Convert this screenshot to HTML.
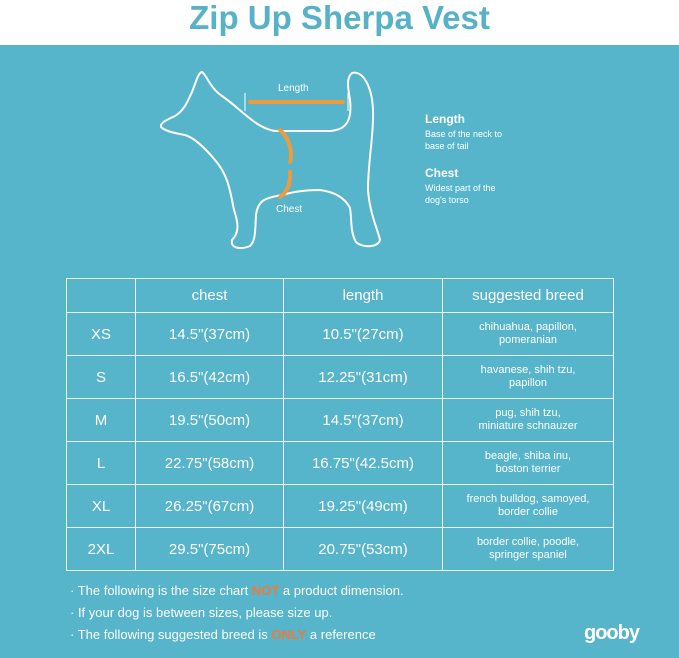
<!DOCTYPE html>
<html><head><meta charset="utf-8"><style>
body{margin:0;width:679px;height:658px;overflow:hidden;font-family:"Liberation Sans","DejaVu Sans",sans-serif;background:#fff;position:relative}
.hdr{position:absolute;left:0;top:0;width:679px;height:45px;background:#fff;text-align:center;color:#57b2c8;font-size:33px;font-weight:bold;line-height:36px}
.bg{position:absolute;left:0;top:45px;width:679px;height:613px;background:#56b4cb}
table{position:absolute;left:66px;top:278px;width:547px;table-layout:fixed;border-collapse:collapse;color:#fff}
td{border:1.5px solid #e8f4f8;text-align:center;padding:0;overflow:hidden}
.r td{height:42px}
.big{font-size:15px}
.sm{font-size:11px;line-height:13px}
.notes{position:absolute;left:70px;top:580px;color:#fff;font-size:13px;line-height:22px}
.or{color:#ef7a3b;font-weight:bold}
.t{position:absolute;color:#fff}
</style></head><body>
<div class="hdr">Zip Up Sherpa Vest</div>
<div class="bg"></div>
<svg style="position:absolute;left:0;top:0" width="679" height="658">
<path d="M202,72 C206,74 210,88 222,96 C240,108 255,128 275,131 L330,131 C348,130 352,118 350,100 C348,88 346,78 352,73 C362,70 372,85 373,110 C374,135 368,160 368,190 C370,215 378,230 380,240 C378,248 362,248 356,242 C350,232 352,220 350,208 C345,198 335,192 320,190 C300,190 290,193 282,195 C265,198 258,200 256,215 C255,230 256,240 250,246 C240,250 230,248 232,240 C240,232 238,222 234,210 C230,190 228,175 215,160 C205,148 195,138 185,135 C175,133 168,132 162,128 C158,124 166,120 175,116 C185,110 188,100 192,92 C196,82 198,73 202,72 Z" fill="none" stroke="#fff" stroke-width="2"/>
<line x1="250" y1="102" x2="343" y2="102" stroke="#ef9a3c" stroke-width="4" stroke-linecap="round"/>
<line x1="245" y1="93" x2="245" y2="111" stroke="#fff" stroke-width="1"/>
<line x1="348" y1="93" x2="348" y2="111" stroke="#fff" stroke-width="1"/>
<path d="M280,130 C292,140 292,158 290,162" fill="none" stroke="#ef9a3c" stroke-width="4" stroke-linecap="round"/>
<path d="M290,172 C291,185 286,193 280,197" fill="none" stroke="#ef9a3c" stroke-width="4" stroke-linecap="round"/>
</svg>
<div class="t" style="left:278px;top:83px;font-size:10px">Length</div>
<div class="t" style="left:276px;top:204px;font-size:10px">Chest</div>
<div class="t" style="left:425px;top:112px;font-size:12px;font-weight:bold">Length</div>
<div class="t" style="left:425px;top:128px;font-size:9px;line-height:12px">Base of the neck to<br>base of tail</div>
<div class="t" style="left:425px;top:166px;font-size:12px;font-weight:bold">Chest</div>
<div class="t" style="left:425px;top:182px;font-size:9px;line-height:12px">Widest part of the<br>dog's torso</div>
<table>
<colgroup><col style="width:69px"><col style="width:148px"><col style="width:159px"><col style="width:171px"></colgroup>
<tr style="height:34px"><td></td><td class="big">chest</td><td class="big">length</td><td class="big">suggested breed</td></tr>
<tr class="r"><td class="big">XS</td><td class="big">14.5"(37cm)</td><td class="big">10.5"(27cm)</td><td class="sm">chihuahua, papillon,<br>pomeranian</td></tr>
<tr class="r"><td class="big">S</td><td class="big">16.5"(42cm)</td><td class="big">12.25"(31cm)</td><td class="sm">havanese, shih tzu,<br>papillon</td></tr>
<tr class="r"><td class="big">M</td><td class="big">19.5"(50cm)</td><td class="big">14.5"(37cm)</td><td class="sm">pug, shih tzu,<br>miniature schnauzer</td></tr>
<tr class="r"><td class="big">L</td><td class="big">22.75"(58cm)</td><td class="big">16.75"(42.5cm)</td><td class="sm">beagle, shiba inu,<br>boston terrier</td></tr>
<tr class="r"><td class="big">XL</td><td class="big">26.25"(67cm)</td><td class="big">19.25"(49cm)</td><td class="sm">french bulldog, samoyed,<br>border collie</td></tr>
<tr class="r"><td class="big">2XL</td><td class="big">29.5"(75cm)</td><td class="big">20.75"(53cm)</td><td class="sm">border collie, poodle,<br>springer spaniel</td></tr>
</table>
<div class="notes">· The following is the size chart <span class="or">NOT</span> a product dimension.<br>· If your dog is between sizes, please size up.<br>· The following suggested breed is <span class="or">ONLY</span> a reference</div>
<div class="t" style="left:584px;top:622px;font-size:20px;font-weight:bold;letter-spacing:-1px">gooby</div>
</body></html>
